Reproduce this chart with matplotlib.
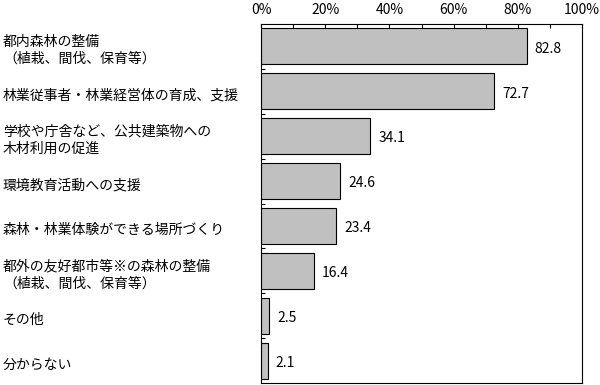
import numpy as np
import matplotlib.pyplot as plt
import matplotlib.transforms as mtransforms
from matplotlib.ticker import MultipleLocator, FuncFormatter

plt.rcParams['font.family'] = ['Noto Sans CJK JP', 'DejaVu Sans']

categories = [
    '都内森林の整備\n（植栽、間伐、保育等）',
    '林業従事者・林業経営体の育成、支援',
    '学校や庁舎など、公共建築物への\n木材利用の促進',
    '環境教育活動への支援',
    '森林・林業体験ができる場所づくり',
    '都外の友好都市等※の森林の整備\n（植栽、間伐、保育等）',
    'その他',
    '分からない',
]
values = [82.8, 72.7, 34.1, 24.6, 23.4, 16.4, 2.5, 2.1]

fig = plt.figure(figsize=(6.0, 3.85), dpi=100)
ax = fig.add_axes([261 / 600, 2 / 385, 321 / 600, 359 / 385])

y = np.arange(len(categories))
bars = ax.barh(y, values, height=0.8, color='#c0c0c0', edgecolor='black', linewidth=0.8)

ax.set_xlim(0, 100)
ax.set_ylim(len(categories) - 0.5, -0.5)

# eje x arriba con marcas cada 10 %
ax.xaxis.tick_top()
ax.xaxis.set_major_locator(MultipleLocator(20))
ax.xaxis.set_minor_locator(MultipleLocator(10))
ax.xaxis.set_major_formatter(FuncFormatter(lambda v, p: f'{int(v)}%'))
ax.tick_params(axis='x', which='both', direction='in', length=3, width=0.8, labelsize=10, pad=5)

# separadores pequeños en el eje izquierdo
ax.set_yticks(y[:-1] + 0.5)
ax.set_yticklabels([])
ax.tick_params(axis='y', direction='in', length=3, width=0.8)

for s in ax.spines.values():
    s.set_linewidth(0.8)

# valores al final de cada barra
for bar, v in zip(bars, values):
    ax.text(v + 2.5, bar.get_y() + bar.get_height() / 2 + 0.05, f'{v:.1f}',
            va='center', ha='left', fontsize=10)

# etiquetas de categorías alineadas a la izquierda de la figura
trans = mtransforms.blended_transform_factory(fig.transFigure, ax.transData)
for yi, lab in zip(y, categories):
    ax.text(3 / 600, yi + 0.09, lab, transform=trans, fontsize=10,
            va='center', ha='left', linespacing=1.3)

fig.savefig('out.png', dpi=100)
